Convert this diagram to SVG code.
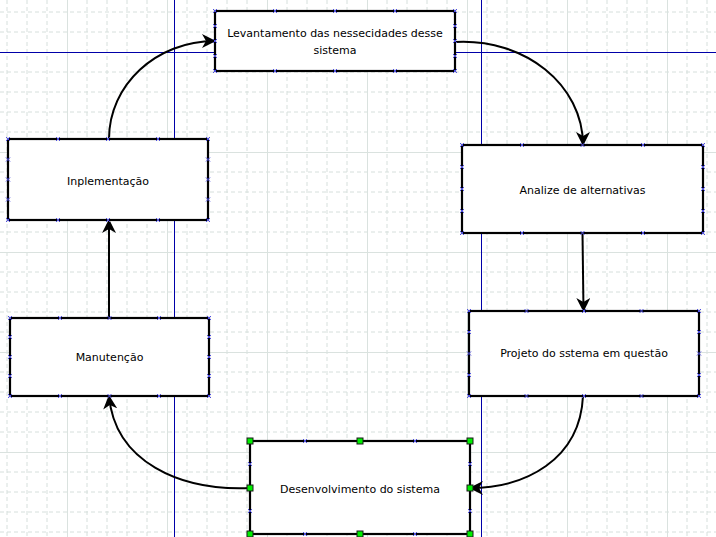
<svg xmlns="http://www.w3.org/2000/svg" xmlns:xlink="http://www.w3.org/1999/xlink" width="716" height="537" viewBox="0 0 716 537">
<style>
.minor{stroke:#d6dfdc;stroke-width:1;stroke-dasharray:4 3;fill:none}
.major{stroke:#dae2df;stroke-width:1;fill:none}
.guide{stroke:#0000a8;stroke-width:1;fill:none}
.box{fill:#ffffff;stroke:#000000;stroke-width:2.2}
.lbl{font-family:"DejaVu Sans",Verdana,sans-serif;font-size:11px;fill:#000000;text-anchor:middle}
.conn{fill:none;stroke:#000000;stroke-width:2}
.xm{stroke:#5050e0;stroke-width:1;fill:none}
.h{fill:#00ee00;stroke:#1a1a1a;stroke-width:1}
</style>
<defs>
<path id="xm" class="xm" d="M-2,-2 L2,2 M-2,2 L2,-2"/>
<marker id="arr" markerUnits="userSpaceOnUse" markerWidth="16" markerHeight="14" refX="13" refY="7" orient="auto" viewBox="0 0 16 14">
<path d="M0,0 L14,7 L0,14 L4,7 z" fill="#000000"/>
</marker>
</defs>
<rect width="716" height="537" fill="#ffffff"/>
<g id="grid">
<path class="minor" d="M7,0V537M27,0V537M47,0V537M87,0V537M107,0V537M127,0V537M147,0V537M187,0V537M207,0V537M227,0V537M247,0V537M287,0V537M307,0V537M327,0V537M347,0V537M387,0V537M407,0V537M427,0V537M447,0V537M487,0V537M507,0V537M527,0V537M547,0V537M587,0V537M607,0V537M627,0V537M647,0V537M687,0V537M707,0V537"/>
<path class="minor" d="M0,12H716M0,32H716M0,72H716M0,92H716M0,112H716M0,132H716M0,172H716M0,192H716M0,212H716M0,232H716M0,272H716M0,292H716M0,312H716M0,332H716M0,372H716M0,392H716M0,412H716M0,432H716M0,472H716M0,492H716M0,512H716M0,532H716"/>
<path class="major" d="M67.5,0V537M167.5,0V537M267.5,0V537M367.5,0V537M467.5,0V537M567.5,0V537M667.5,0V537M0,152.5H716M0,252.5H716M0,352.5H716M0,452.5H716"/>
<path class="guide" d="M174.5,0V537M481.5,0V537M0,52.5H716"/>
</g>
<g id="connectors">
<path class="conn" d="M109,139 C109,85 156,41 215,41" marker-end="url(#arr)"/>
<path class="conn" d="M455,42 C525,38 583,85 583,145" marker-end="url(#arr)"/>
<path class="conn" d="M582.5,233 L583.5,311" marker-end="url(#arr)"/>
<path class="conn" d="M583,396 C580,460 525,488 470,488" marker-end="url(#arr)"/>
<path class="conn" d="M250,488 C180,491 115,462 109,396" marker-end="url(#arr)"/>
<path class="conn" d="M109,318 L109,220" marker-end="url(#arr)"/>
</g>
<g id="levantamento">
<rect class="box" x="215" y="11" width="240" height="60"/>
<text class="lbl" x="335" y="37">Levantamento das nessecidades desse</text>
<text class="lbl" x="335" y="54">sistema</text>
<use href="#xm" x="215" y="11"/><use href="#xm" x="275" y="11"/><use href="#xm" x="335" y="11"/><use href="#xm" x="395" y="11"/><use href="#xm" x="455" y="11"/>
<use href="#xm" x="215" y="71"/><use href="#xm" x="275" y="71"/><use href="#xm" x="335" y="71"/><use href="#xm" x="395" y="71"/><use href="#xm" x="455" y="71"/>
<use href="#xm" x="215" y="26"/><use href="#xm" x="215" y="41"/><use href="#xm" x="215" y="56"/>
<use href="#xm" x="455" y="26"/><use href="#xm" x="455" y="41"/><use href="#xm" x="455" y="56"/>
</g>
<g id="inplementacao">
<rect class="box" x="8" y="139" width="200" height="81"/>
<text class="lbl" x="108" y="185">Inplementação</text>
<use href="#xm" x="8" y="139"/><use href="#xm" x="58" y="139"/><use href="#xm" x="108" y="139"/><use href="#xm" x="158" y="139"/><use href="#xm" x="208" y="139"/>
<use href="#xm" x="8" y="220"/><use href="#xm" x="58" y="220"/><use href="#xm" x="108" y="220"/><use href="#xm" x="158" y="220"/><use href="#xm" x="208" y="220"/>
<use href="#xm" x="8" y="159.5"/><use href="#xm" x="8" y="179.5"/><use href="#xm" x="8" y="199.5"/>
<use href="#xm" x="208" y="159.5"/><use href="#xm" x="208" y="179.5"/><use href="#xm" x="208" y="199.5"/>
</g>
<g id="analize">
<rect class="box" x="462" y="145" width="241" height="88"/>
<text class="lbl" x="582.5" y="194">Analize de alternativas</text>
<use href="#xm" x="462" y="145"/><use href="#xm" x="522" y="145"/><use href="#xm" x="582.5" y="145"/><use href="#xm" x="643" y="145"/><use href="#xm" x="703" y="145"/>
<use href="#xm" x="462" y="233"/><use href="#xm" x="522" y="233"/><use href="#xm" x="582.5" y="233"/><use href="#xm" x="643" y="233"/><use href="#xm" x="703" y="233"/>
<use href="#xm" x="462" y="167"/><use href="#xm" x="462" y="189"/><use href="#xm" x="462" y="211"/>
<use href="#xm" x="703" y="167"/><use href="#xm" x="703" y="189"/><use href="#xm" x="703" y="211"/>
</g>
<g id="projeto">
<rect class="box" x="469" y="311" width="230" height="85"/>
<text class="lbl" x="584" y="357">Projeto do sstema em questão</text>
<use href="#xm" x="469" y="311"/><use href="#xm" x="526.5" y="311"/><use href="#xm" x="584" y="311"/><use href="#xm" x="641.5" y="311"/><use href="#xm" x="699" y="311"/>
<use href="#xm" x="469" y="396"/><use href="#xm" x="526.5" y="396"/><use href="#xm" x="584" y="396"/><use href="#xm" x="641.5" y="396"/><use href="#xm" x="699" y="396"/>
<use href="#xm" x="469" y="332"/><use href="#xm" x="469" y="353.5"/><use href="#xm" x="469" y="375"/>
<use href="#xm" x="699" y="332"/><use href="#xm" x="699" y="353.5"/><use href="#xm" x="699" y="375"/>
</g>
<g id="desenvolvimento">
<rect class="box" x="250" y="441" width="220" height="93"/>
<text class="lbl" x="360" y="493">Desenvolvimento do sistema</text>
<use href="#xm" x="305" y="441"/><use href="#xm" x="415" y="441"/>
<use href="#xm" x="305" y="534"/><use href="#xm" x="415" y="534"/>
<use href="#xm" x="250" y="464"/><use href="#xm" x="250" y="511"/>
<use href="#xm" x="470" y="464"/><use href="#xm" x="470" y="511"/>
<rect class="h" x="247" y="438" width="6" height="6"/><rect class="h" x="357" y="438" width="6" height="6"/><rect class="h" x="467" y="438" width="6" height="6"/>
<rect class="h" x="247" y="485" width="6" height="6"/><rect class="h" x="467" y="485" width="6" height="6"/>
<rect class="h" x="247" y="531" width="6" height="6"/><rect class="h" x="357" y="531" width="6" height="6"/><rect class="h" x="467" y="531" width="6" height="6"/>
</g>
<g id="manutencao">
<rect class="box" x="10" y="318" width="199" height="78"/>
<text class="lbl" x="109.5" y="361">Manutenção</text>
<use href="#xm" x="10" y="318"/><use href="#xm" x="60" y="318"/><use href="#xm" x="109.5" y="318"/><use href="#xm" x="159" y="318"/><use href="#xm" x="209" y="318"/>
<use href="#xm" x="10" y="396"/><use href="#xm" x="60" y="396"/><use href="#xm" x="109.5" y="396"/><use href="#xm" x="159" y="396"/><use href="#xm" x="209" y="396"/>
<use href="#xm" x="10" y="337"/><use href="#xm" x="10" y="357"/><use href="#xm" x="10" y="376"/>
<use href="#xm" x="209" y="337"/><use href="#xm" x="209" y="357"/><use href="#xm" x="209" y="376"/>
</g>
</svg>
